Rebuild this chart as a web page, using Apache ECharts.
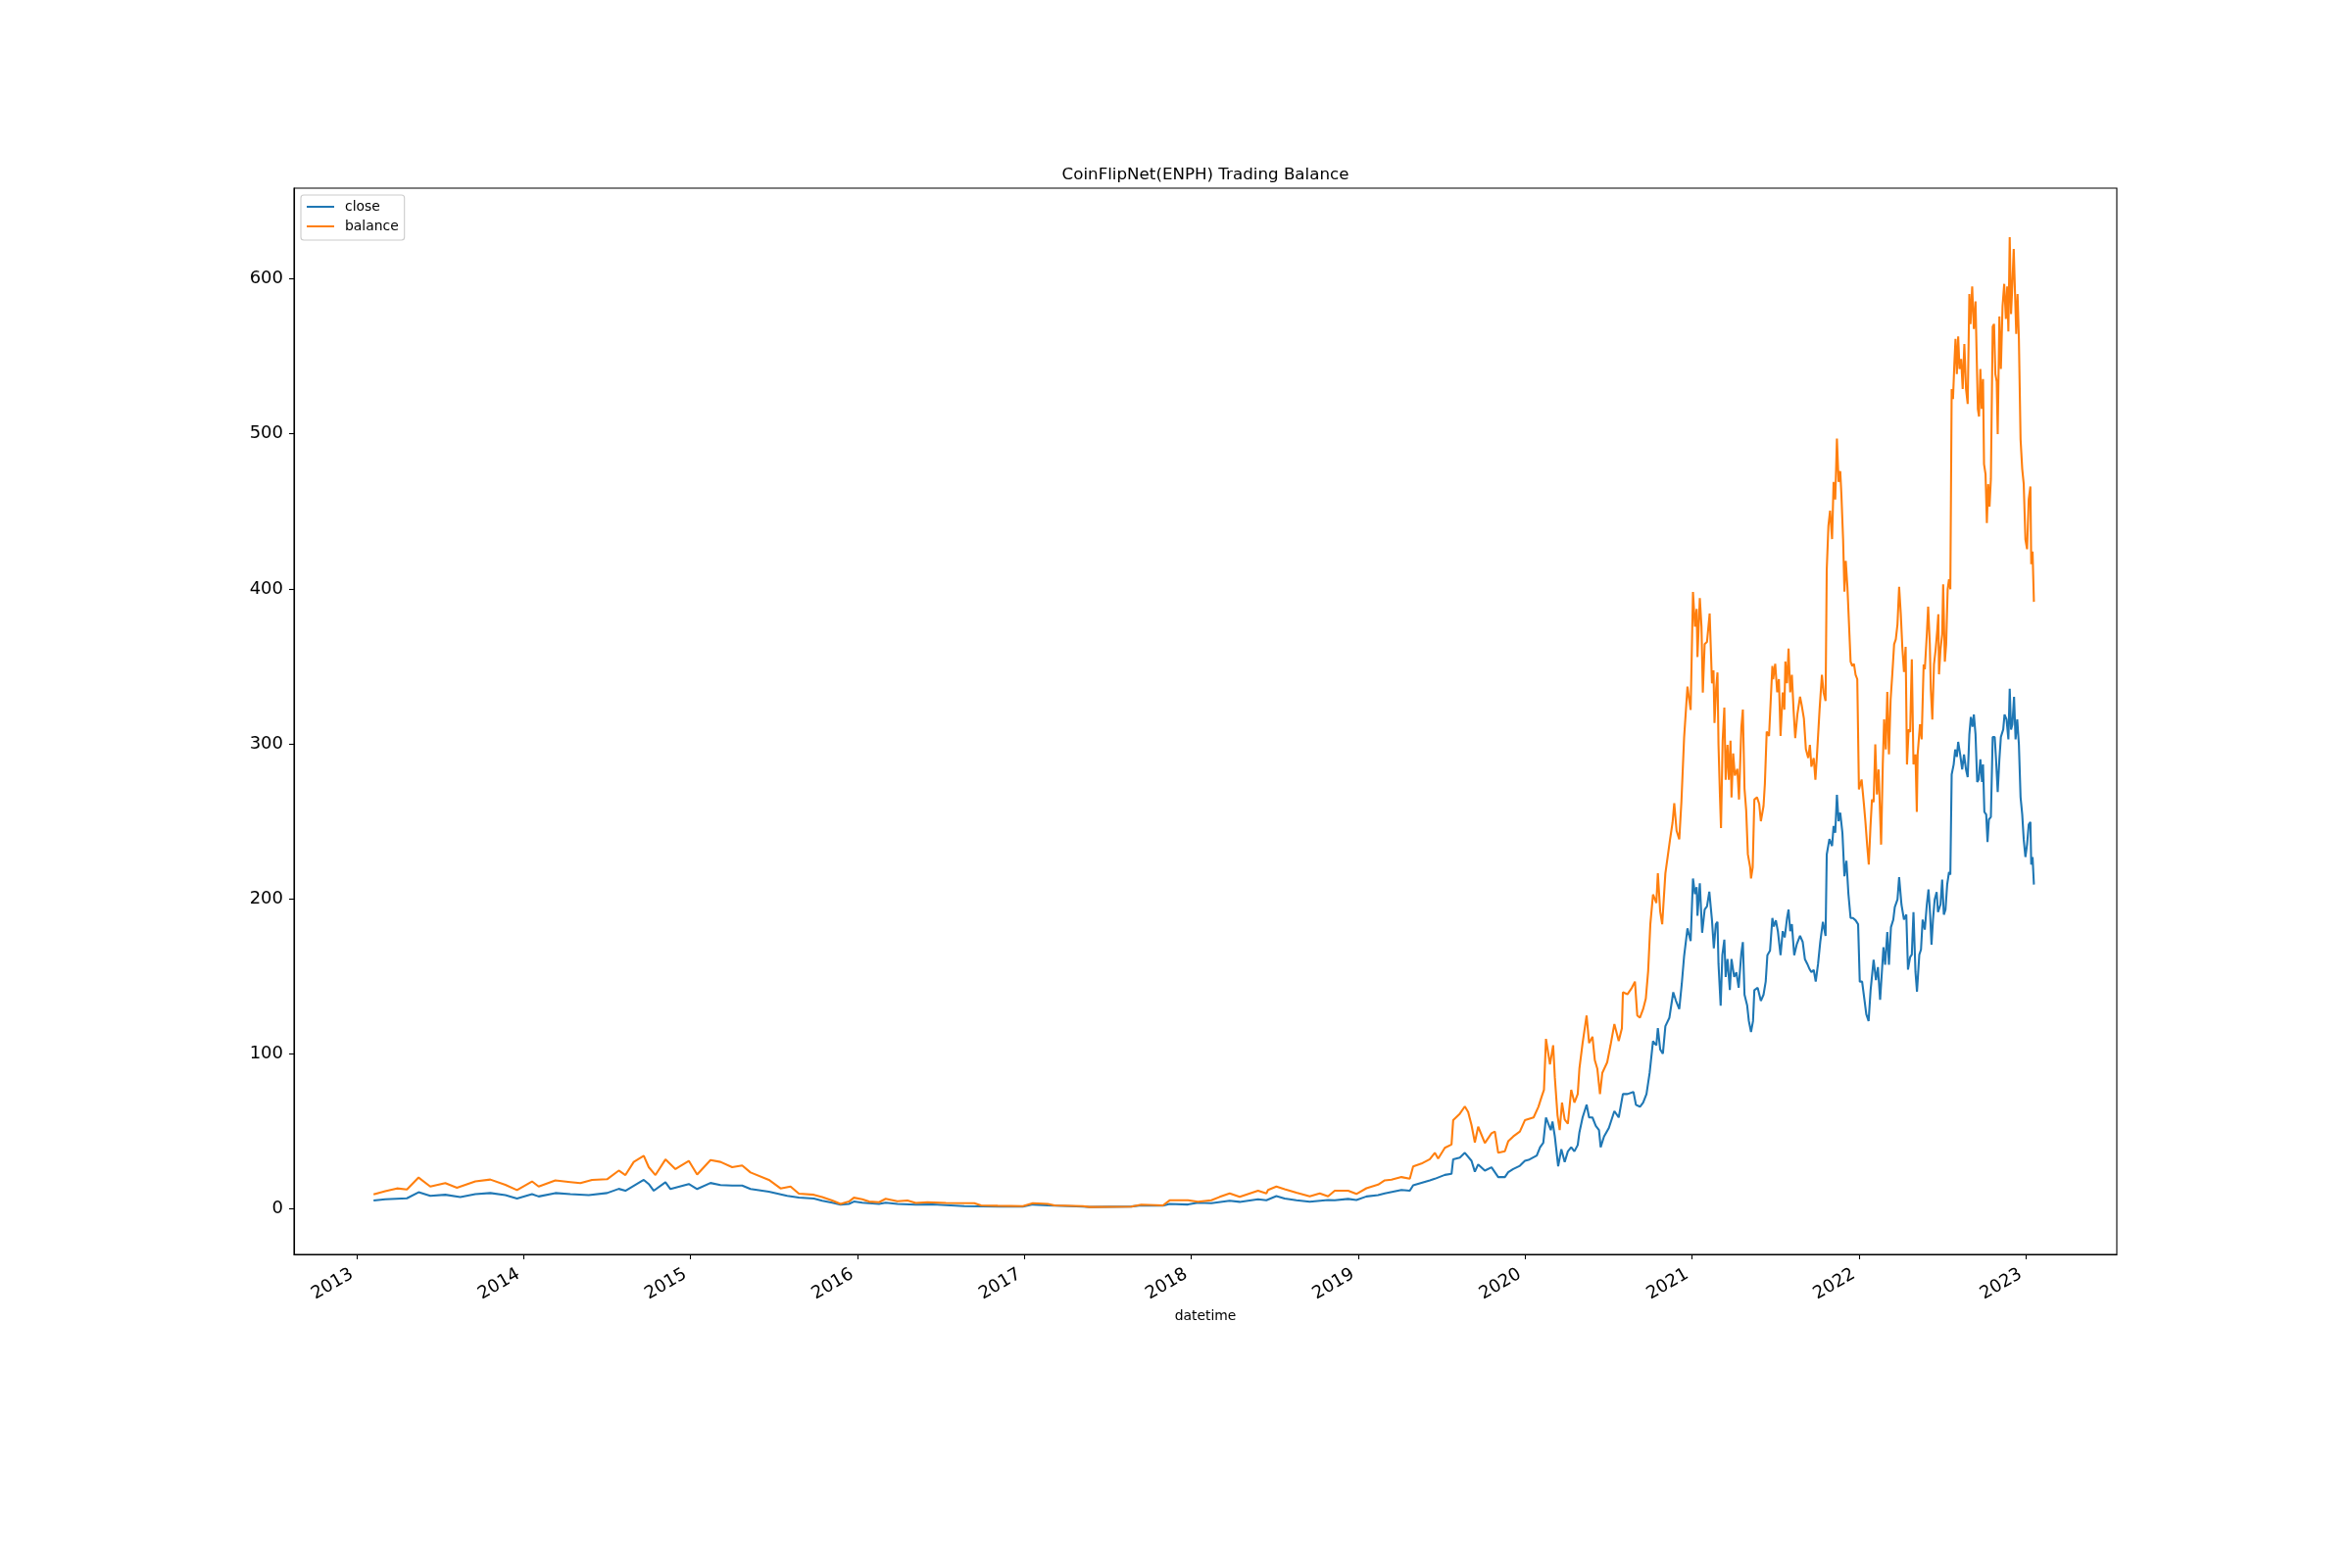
<!DOCTYPE html>
<html>
<head>
<meta charset="utf-8">
<script src="https://cdn.jsdelivr.net/npm/echarts@6/dist/echarts.min.js"></script>
<style>
html,body{margin:0;padding:0;background:#fff;}
#chart{width:2400px;height:1600px;}
</style>
</head>
<body>
<div id="chart"></div>
<script>
// ---- data (decimal year, value) ----
const closeData = [
[2013.10,5.2],[2013.17,6.0],[2013.30,6.6],[2013.37,10.5],[2013.44,8.2],[2013.53,8.9],[2013.62,7.4],[2013.71,9.3],[2013.80,10.0],[2013.89,8.7],[2013.96,6.5],
[2014.05,9.3],[2014.09,7.8],[2014.19,10.0],[2014.28,9.3],[2014.39,8.7],[2014.50,10.0],[2014.57,12.7],[2014.61,11.5],[2014.72,18.5],[2014.75,15.8],[2014.78,11.5],[2014.85,17.0],[2014.88,12.6],[2014.99,15.8],
[2015.04,12.6],[2015.12,16.5],[2015.18,15.2],[2015.25,14.8],[2015.31,14.8],[2015.36,12.6],[2015.47,10.9],[2015.58,8.2],[2015.65,7.1],[2015.74,6.4],[2015.79,5.0],[2015.85,3.8],[2015.90,2.5],[2015.95,3.0],[2015.98,4.5],
[2016.03,3.8],[2016.13,3.0],[2016.17,3.8],[2016.24,3.0],[2016.35,2.5],[2016.45,2.7],[2016.64,1.6],[2016.85,1.3],[2016.99,1.3],
[2017.05,2.6],[2017.14,2.0],[2017.35,1.2],[2017.39,1.0],[2017.64,1.3],[2017.70,2.0],[2017.83,1.9],[2017.87,3.0],[2017.98,2.6],
[2018.04,3.8],[2018.12,3.5],[2018.23,5.0],[2018.29,4.3],[2018.40,6.0],[2018.45,5.4],[2018.51,8.0],[2018.56,6.5],[2018.63,5.4],[2018.71,4.4],[2018.82,5.5],[2018.86,5.4],[2018.94,6.2],[2018.99,5.5],
[2019.05,7.8],[2019.12,8.7],[2019.16,9.8],[2019.26,12],[2019.31,11.5],[2019.33,15],[2019.43,18.2],[2019.46,19.2],[2019.52,21.7],[2019.56,22.4],[2019.57,31.8],[2019.61,32.9],[2019.64,36],[2019.68,30.8],[2019.70,23.8],[2019.72,28.5],[2019.76,24.5],[2019.80,26.6],[2019.84,20.3],[2019.88,20.3],[2019.90,23.4],[2019.93,25.5],[2019.97,27.6],
[2020.00,30.8],[2020.022,31.4],[2020.071,34.2],[2020.091,39.6],[2020.11,42.4],[2020.126,58.8],[2020.14,54.7],[2020.155,50.6],[2020.165,56.1],[2020.179,46.5],[2020.199,27.3],[2020.218,38.3],[2020.238,30],[2020.257,36.9],[2020.277,39.6],[2020.296,36.9],[2020.316,41],[2020.326,49.2],[2020.345,58.8],[2020.369,67],[2020.384,58.8],[2020.404,58.8],[2020.424,53.3],[2020.443,50.6],[2020.453,39.6],[2020.473,46.5],[2020.502,52],[2020.535,62.9],[2020.561,58.8],[2020.586,73.9],[2020.613,73.9],[2020.649,75.3],[2020.664,67],[2020.688,65.7],[2020.707,68.4],[2020.727,73.9],[2020.746,87.6],[2020.766,108],[2020.786,105.4],[2020.795,116.4],[2020.809,102.7],[2020.825,100],[2020.84,117.7],[2020.864,123.2],[2020.887,139.6],[2020.903,134.2],[2020.923,128.7],[2020.938,145],[2020.952,163],[2020.972,180.8],[2020.991,172.6],
[2021.005,213],[2021.017,203],[2021.027,207.5],[2021.032,189],[2021.046,210],[2021.06,178],[2021.075,193],[2021.089,195],[2021.103,204.5],[2021.119,186],[2021.13,168],[2021.142,183.5],[2021.152,185],[2021.158,158],[2021.171,131],[2021.181,163.5],[2021.193,173.5],[2021.201,149.5],[2021.212,161],[2021.226,141],[2021.236,161],[2021.252,149.5],[2021.265,152.5],[2021.279,142.5],[2021.295,165],[2021.304,172],[2021.314,138],[2021.33,131],[2021.34,121],[2021.353,114],[2021.365,121],[2021.373,141],[2021.393,142.5],[2021.412,134],[2021.428,138],[2021.441,146.5],[2021.451,163.5],[2021.467,166.5],[2021.481,187.5],[2021.49,182],[2021.502,186],[2021.514,179],[2021.53,163.5],[2021.543,179],[2021.555,175],[2021.569,187.5],[2021.578,193],[2021.588,179],[2021.598,183.5],[2021.612,163.5],[2021.627,170.5],[2021.647,176],[2021.663,172],[2021.676,161],[2021.69,158],[2021.702,155],[2021.715,152.5],[2021.729,154],[2021.741,146.5],[2021.755,158],[2021.768,172],[2021.784,185],[2021.8,176],[2021.807,228.5],[2021.823,238.5],[2021.839,234],[2021.848,247],[2021.858,242.5],[2021.868,267],[2021.878,250],[2021.888,255.5],[2021.901,242.5],[2021.913,214.5],[2021.925,224.5],[2021.937,203],[2021.95,187.5],[2021.964,187.5],[2021.98,186],[2021.995,183.5],
[2022.005,146.5],[2022.019,146.5],[2022.034,134],[2022.044,125.5],[2022.058,121],[2022.07,141],[2022.088,160.5],[2022.102,147.5],[2022.114,155.8],[2022.127,134.8],[2022.147,168.7],[2022.157,157.4],[2022.170,178.4],[2022.18,157.4],[2022.192,181.6],[2022.206,186.5],[2022.215,194.6],[2022.231,199.4],[2022.241,213.9],[2022.255,196.2],[2022.27,186.5],[2022.284,189.7],[2022.294,154.2],[2022.307,162.3],[2022.317,163.9],[2022.327,191.3],[2022.339,152.6],[2022.348,140],[2022.362,163.9],[2022.372,167.1],[2022.382,186.5],[2022.395,180],[2022.407,196.2],[2022.417,205.9],[2022.427,189.7],[2022.435,170.3],[2022.444,186.5],[2022.454,199.4],[2022.466,204.3],[2022.474,191.3],[2022.489,196.2],[2022.499,212.3],[2022.509,189.7],[2022.519,192.9],[2022.529,209.1],[2022.54,217.2],[2022.548,215.5],[2022.556,280.2],[2022.568,286.6],[2022.577,296.3],[2022.587,291.5],[2022.595,301.2],[2022.607,293.1],[2022.619,283.4],[2022.63,293.1],[2022.642,283.4],[2022.652,278.5],[2022.662,306],[2022.671,317.3],[2022.681,310.9],[2022.689,318.9],[2022.699,306],[2022.709,275.3],[2022.718,276.9],[2022.728,289.9],[2022.738,275.3],[2022.744,286.6],[2022.752,256],[2022.763,254.3],[2022.771,236.6],[2022.779,251.1],[2022.791,252.7],[2022.802,304.4],[2022.814,304.4],[2022.822,289.9],[2022.832,268.9],[2022.842,289.9],[2022.851,304.4],[2022.865,309.2],[2022.873,318.9],[2022.885,315.7],[2022.896,302.8],[2022.904,335.5],[2022.912,309.2],[2022.92,312.5],[2022.93,330.3],[2022.939,302.8],[2022.949,315.7],[2022.959,299.6],[2022.969,265.6],[2022.979,254.3],[2022.988,238.2],[2022.998,226.9],
[2023.008,234.9],[2023.018,247.9],[2023.028,249.5],[2023.033,222],[2023.041,226.9],[2023.049,209.1]
];
const balanceData = [
[2013.10,9.1],[2013.17,11.2],[2013.24,13.0],[2013.30,12.3],[2013.37,20],[2013.44,14.2],[2013.53,16.4],[2013.60,13.4],[2013.71,17.5],[2013.80,18.7],[2013.89,15.3],[2013.96,11.9],
[2014.05,17.5],[2014.09,14.2],[2014.19,18.1],[2014.28,17.1],[2014.34,16.4],[2014.41,18.5],[2014.50,18.9],[2014.57,24.5],[2014.61,21.6],[2014.66,30.1],[2014.72,34],[2014.75,26.7],[2014.79,21.6],[2014.85,31.7],[2014.91,25.5],[2014.99,30.8],
[2015.04,22],[2015.12,31.3],[2015.18,30.1],[2015.25,26.7],[2015.31,27.8],[2015.36,23.3],[2015.47,18.5],[2015.54,13],[2015.60,14.2],[2015.65,9.6],[2015.74,8.9],[2015.79,7.4],[2015.85,5.2],[2015.90,3.0],[2015.95,4.5],[2015.98,7.0],
[2016.03,6.0],[2016.07,4.5],[2016.13,4.1],[2016.17,6.3],[2016.24,4.7],[2016.30,5.2],[2016.35,3.6],[2016.42,4.1],[2016.53,3.6],[2016.70,3.4],[2016.74,2.0],[2016.84,1.8],[2016.99,1.6],
[2017.05,3.4],[2017.14,3.0],[2017.18,2.0],[2017.35,1.6],[2017.39,1.0],[2017.64,1.2],[2017.70,2.5],[2017.83,2.0],[2017.87,5.3],[2017.98,5.3],
[2018.04,4.4],[2018.12,5.3],[2018.17,7.5],[2018.23,9.8],[2018.29,7.5],[2018.33,9.0],[2018.40,11.5],[2018.45,9.8],[2018.46,12],[2018.51,14.2],[2018.56,12.4],[2018.63,10.2],[2018.71,7.9],[2018.77,9.8],[2018.82,7.9],[2018.86,11.5],[2018.94,11.5],[2018.99,9.4],
[2019.05,13.1],[2019.12,15.4],[2019.16,18.2],[2019.20,18.6],[2019.26,20.3],[2019.31,19.2],[2019.33,27.2],[2019.38,29],[2019.43,31.8],[2019.46,36],[2019.48,32.2],[2019.52,39.2],[2019.56,41.3],[2019.57,57],[2019.61,61.2],[2019.64,65.9],[2019.66,62.3],[2019.68,53.9],[2019.70,42.7],[2019.72,52.8],[2019.76,42.3],[2019.80,48.6],[2019.82,49.7],[2019.84,36],[2019.88,37],[2019.90,43.4],[2019.93,46.5],[2019.97,49.7],
[2020.00,57],[2020.052,58.8],[2020.081,65.7],[2020.101,72.5],[2020.114,76.6],[2020.126,109.5],[2020.14,99.9],[2020.15,93],[2020.169,105.4],[2020.179,84.8],[2020.195,60.2],[2020.208,50.6],[2020.222,68.4],[2020.238,57.4],[2020.257,54.7],[2020.277,76.6],[2020.296,68.4],[2020.316,73.9],[2020.326,90.3],[2020.345,106.8],[2020.369,124.6],[2020.384,106.8],[2020.404,110.9],[2020.418,95.8],[2020.433,90.3],[2020.449,73.9],[2020.463,87.6],[2020.492,94.4],[2020.512,105.4],[2020.535,119.1],[2020.561,108.1],[2020.58,116.4],[2020.586,139.6],[2020.613,138.3],[2020.639,142.4],[2020.658,146.5],[2020.672,124.6],[2020.688,123.2],[2020.707,128.7],[2020.723,135.5],[2020.737,153.3],[2020.75,183.5],[2020.766,202.7],[2020.786,197.2],[2020.795,216.4],[2020.809,191.7],[2020.821,183.5],[2020.84,216.4],[2020.854,227.3],[2020.868,238.3],[2020.883,249.2],[2020.893,261.6],[2020.907,243.8],[2020.923,238.3],[2020.936,262.9],[2020.952,304],[2020.972,336.9],[2020.991,321.8],
[2021.005,398],[2021.017,375.6],[2021.027,387],[2021.032,356],[2021.046,394],[2021.056,375.6],[2021.064,333],[2021.075,364.3],[2021.089,365.7],[2021.105,384],[2021.119,339],[2021.128,347.4],[2021.134,313.4],[2021.144,336],[2021.152,346],[2021.158,299.3],[2021.167,265.4],[2021.173,245.6],[2021.183,302],[2021.193,323.3],[2021.201,276.7],[2021.212,299.3],[2021.22,276.7],[2021.23,302],[2021.236,265.4],[2021.246,293.7],[2021.256,279.5],[2021.271,283.8],[2021.281,264],[2021.295,310.6],[2021.304,322],[2021.314,271],[2021.324,257],[2021.334,228.7],[2021.348,220.2],[2021.353,213],[2021.363,220.2],[2021.373,264],[2021.389,265.4],[2021.402,261.2],[2021.412,250],[2021.428,259.8],[2021.436,274],[2021.447,307.8],[2021.461,305],[2021.471,327.6],[2021.481,350.2],[2021.486,341.7],[2021.498,351.6],[2021.51,333.2],[2021.52,341.7],[2021.53,305],[2021.543,333.2],[2021.553,322],[2021.559,353],[2021.569,339],[2021.578,361.5],[2021.588,333.2],[2021.598,344.5],[2021.608,322],[2021.618,303.6],[2021.631,319],[2021.647,330.4],[2021.657,324.8],[2021.67,316.3],[2021.682,296.5],[2021.696,290.8],[2021.706,299.3],[2021.715,285.2],[2021.729,290.8],[2021.739,276.7],[2021.749,293.7],[2021.764,322],[2021.778,344.5],[2021.788,333.2],[2021.8,327.6],[2021.807,412.4],[2021.817,440.6],[2021.827,450.5],[2021.839,432.1],[2021.848,469],[2021.858,457.6],[2021.868,497],[2021.878,469],[2021.888,476],[2021.895,460.4],[2021.905,432.1],[2021.913,398.2],[2021.921,418],[2021.931,401],[2021.94,378.4],[2021.95,353],[2021.96,350.2],[2021.97,351.6],[2021.98,344.5],[2021.99,341.7],
[2022.0,270.5],[2022.016,276.9],[2022.03,260.8],[2022.039,249.5],[2022.049,234.9],[2022.059,222],[2022.069,246.2],[2022.078,264],[2022.088,262.4],[2022.098,299.6],[2022.108,267.2],[2022.118,283.4],[2022.127,254.3],[2022.133,234.9],[2022.143,286.6],[2022.151,315.7],[2022.161,296.3],[2022.17,333.5],[2022.18,293.1],[2022.19,328.6],[2022.2,344.8],[2022.211,364.2],[2022.221,367.4],[2022.231,377.1],[2022.241,401.3],[2022.251,383.6],[2022.26,362.5],[2022.27,346.4],[2022.28,362.5],[2022.288,286.6],[2022.298,309.2],[2022.307,307.6],[2022.317,354.5],[2022.327,286.6],[2022.339,293.1],[2022.347,256],[2022.352,293.1],[2022.366,312.5],[2022.376,302.8],[2022.388,351.2],[2022.395,348],[2022.407,370.6],[2022.415,388.4],[2022.425,364.2],[2022.431,335.1],[2022.44,315.7],[2022.45,351.2],[2022.46,360.9],[2022.47,373.9],[2022.476,383.6],[2022.48,344.8],[2022.489,360.9],[2022.499,370.6],[2022.505,402.9],[2022.515,352.9],[2022.523,364.2],[2022.532,399.7],[2022.54,406.2],[2022.548,399.7],[2022.556,529],[2022.564,522.5],[2022.572,545.1],[2022.579,561.3],[2022.587,538.6],[2022.595,562.9],[2022.603,541.9],[2022.613,548.3],[2022.622,529],[2022.632,558],[2022.642,529],[2022.652,519.3],[2022.662,590.3],[2022.669,570.9],[2022.679,595.2],[2022.689,567.7],[2022.699,585.5],[2022.705,554.8],[2022.713,516.1],[2022.72,511.2],[2022.728,541.9],[2022.736,516.1],[2022.744,535.4],[2022.75,480.5],[2022.759,474],[2022.767,442.4],[2022.775,467.6],[2022.783,453],[2022.791,470.8],[2022.802,569.3],[2022.81,570.9],[2022.818,538.6],[2022.826,533.8],[2022.832,499.9],[2022.842,575.8],[2022.851,541.9],[2022.861,582.3],[2022.871,596.8],[2022.881,574.2],[2022.889,595.2],[2022.896,566.1],[2022.904,627],[2022.912,577.4],[2022.92,596.8],[2022.928,619.4],[2022.936,590.3],[2022.943,564.5],[2022.951,590.3],[2022.959,561.3],[2022.969,496.6],[2022.979,477.3],[2022.988,467.6],[2022.998,432],
[2023.008,425.6],[2023.018,457.9],[2023.028,466],[2023.033,415.9],[2023.041,424],[2023.049,391.6]
];
const yearTicks = [2013,2014,2015,2016,2017,2018,2019,2020,2021,2022,2023];
const valueTicks = [0,100,200,300,400,500,600];
const seriesNames = ['close','balance'];
const titleText = 'CoinFlipNet(ENPH) Trading Balance';
const xLabelText = 'datetime';

function toTime(y){
  const yr = Math.floor(y);
  const s = Date.UTC(yr,0,1), e = Date.UTC(yr+1,0,1);
  return s + (y - yr) * (e - s);
}
const conv = arr => arr.map(p => [toTime(p[0]), p[1]]);

const FONT = 'DejaVu Sans';
const chart = echarts.init(document.getElementById('chart'), null, {renderer:'canvas'});
chart.setOption({
  animation:false,
  backgroundColor:'#ffffff',
  grid:{left:300, right:240, top:192, bottom:320, show:true, borderColor:'#000', borderWidth:1.1, backgroundColor:'transparent'},
  graphic:[
    {type:'text', x:1230, y:170, style:{text:titleText, font:'16.7px "DejaVu Sans"', fill:'#000', align:'center', textAlign:'center'}, z:10}
  ],
  legend:{
    orient:'vertical', left:307, top:199,
    padding:[5,6,7,5], itemGap:6, itemWidth:28, itemHeight:14,
    backgroundColor:'rgba(255,255,255,0.8)', borderColor:'#cccccc', borderWidth:1.1, borderRadius:3,
    itemStyle:{opacity:0},
    textStyle:{fontFamily:FONT, fontSize:13.9, color:'#000', padding:[0,0,0,6]},
    data:seriesNames
  },
  xAxis:{
    type:'value',
    min:toTime(2012.624), max:toTime(2023.546),
    name:xLabelText, nameLocation:'middle', nameGap:54,
    nameTextStyle:{fontFamily:FONT, fontSize:13.9, color:'#000'},
    axisLine:{show:true, onZero:false, lineStyle:{color:'#000', width:1.1}},
    axisTick:{show:true, inside:false, length:5, lineStyle:{color:'#000', width:1.1}, customValues:yearTicks.map(y=>toTime(y))},
    axisLabel:{show:true, rotate:30, margin:16, padding:[0,6,0,0], fontFamily:FONT, fontSize:18, color:'#000',
      customValues:yearTicks.map(y=>toTime(y)),
      formatter:function(v){ return String(new Date(v + 43200000).getUTCFullYear()); }},
    splitLine:{show:false}, minorTick:{show:false}
  },
  yAxis:{
    type:'value', min:-29.6, max:658.6,
    axisLine:{show:true, onZero:false, lineStyle:{color:'#000', width:1.1}},
    axisTick:{show:true, inside:false, length:5, lineStyle:{color:'#000', width:1.1}, customValues:valueTicks},
    axisLabel:{show:true, margin:11, fontFamily:FONT, fontSize:18, color:'#000', customValues:valueTicks},
    splitLine:{show:false}
  },
  series:[
    {name:seriesNames[0], type:'line', data:conv(closeData), symbol:'none', showSymbol:false,
     lineStyle:{color:'#1f77b4', width:2.08}, itemStyle:{color:'#1f77b4'}, z:2},
    {name:seriesNames[1], type:'line', data:conv(balanceData), symbol:'none', showSymbol:false,
     lineStyle:{color:'#ff7f0e', width:2.08}, itemStyle:{color:'#ff7f0e'}, z:3}
  ]
});
</script>
</body>
</html>
